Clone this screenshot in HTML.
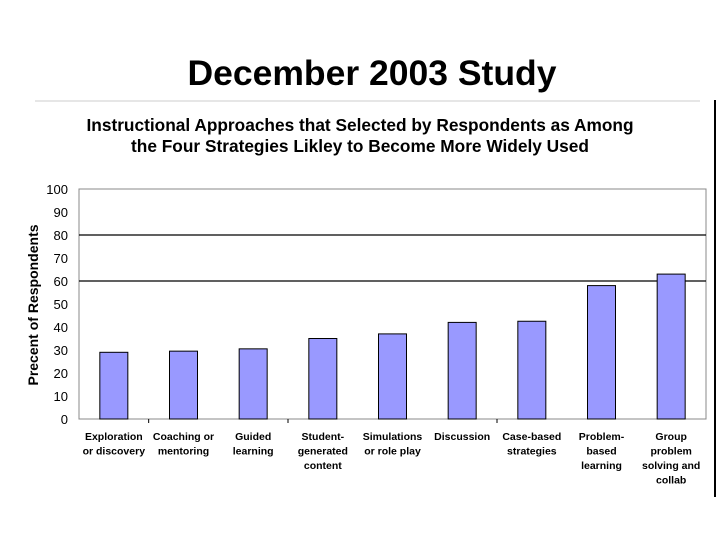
<!DOCTYPE html>
<html><head><meta charset="utf-8"><style>
body{margin:0;width:720px;height:540px;background:#fff;overflow:hidden;font-family:"Liberation Sans",sans-serif}
</style></head><body>
<svg width="720" height="540" xmlns="http://www.w3.org/2000/svg" font-family="Liberation Sans, sans-serif">
<text x="372" y="85" text-anchor="middle" font-size="35.5" font-weight="bold" fill="#000">December 2003 Study</text>
<line x1="35" y1="101" x2="700" y2="101" stroke="#ccc" stroke-width="1"/>
<line x1="715" y1="100" x2="715" y2="497" stroke="#000" stroke-width="2"/>
<text x="360" y="131" text-anchor="middle" font-size="17.3" font-weight="bold">Instructional Approaches that Selected by Respondents as Among</text>
<text x="360" y="152" text-anchor="middle" font-size="17.3" font-weight="bold">the Four Strategies Likley to Become More Widely Used</text>
<text transform="translate(38,305) rotate(-90)" text-anchor="middle" font-size="14" font-weight="bold">Precent of Respondents</text>
<g id="chart"></g>
</svg>
<script>
const categories=[["Exploration","or discovery"],["Coaching or","mentoring"],["Guided","learning"],["Student-","generated","content"],["Simulations","or role play"],["Discussion"],["Case-based","strategies"],["Problem-","based","learning"],["Group","problem","solving and","collab"]];
const values=[29,29.5,30.5,35,37,42,42.5,58,63];
const yTicks=[0,10,20,30,40,50,60,70,80,90,100];
const gridValues=[60,80];
const NS="http://www.w3.org/2000/svg";
const g=document.getElementById('chart');
const L=79,R=706,T=189,B=419;
const y=v=>B-(v/100)*(B-T);
const bw=(R-L)/categories.length;
const x=i=>L+bw*(i+0.5);
function mk(t,a){const e=document.createElementNS(NS,t);for(const k in a)e.setAttribute(k,a[k]);g.appendChild(e);return e;}
let e=mk('rect',{x:L,y:T,width:R-L,height:B-T,fill:'none',stroke:'#888','stroke-width':1});


gridValues.forEach(v=>{const l=mk('line',{x1:L,x2:R,y1:y(v),y2:y(v),stroke:'#000','stroke-width':1.2});

});
yTicks.forEach(v=>{const t=mk('text',{x:68,y:y(v)+5,'text-anchor':'end','font-size':13});t.textContent=v;

});
mk('line',{x1:L,x2:R,y1:B,y2:B,stroke:'#888','stroke-width':1});
[1,3,6].forEach(i=>{mk('line',{x1:L+bw*i,x2:L+bw*i,y1:B,y2:B+4,stroke:'#000'});});
values.forEach((v,i)=>{const r=mk('rect',{x:x(i)-14,y:y(v),width:28,height:B-y(v),fill:'#9999ff',stroke:'#000','stroke-width':1});


categories[i].forEach((ln,j)=>{const t=mk('text',{x:x(i),y:440+j*14.5,'text-anchor':'middle','font-size':10.5,'font-weight':'bold'});t.textContent=ln;

});});
</script>
</body></html>
